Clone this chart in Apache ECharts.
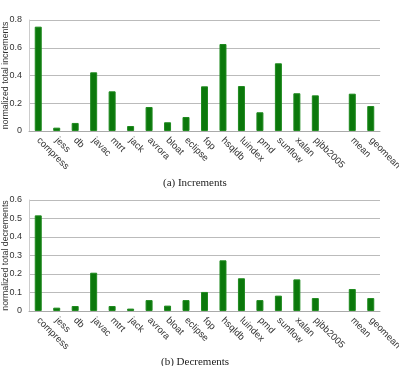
<!DOCTYPE html>
<html>
<head>
<meta charset="utf-8">
<script src="https://cdn.jsdelivr.net/npm/echarts@6/dist/echarts.min.js"></script>
<style>html,body{margin:0;padding:0;background:#fff}#c{width:399px;height:366px}</style>
</head>
<body>
<div id="c"></div>
<script>
var categories = ['compress','jess','db','javac','mtrt','jack','avrora','bloat','eclipse','fop','hsqldb','luindex','pmd','sunflow','xalan','pjbb2005','','mean','geomean'];
var increments = [0.752,0.024,0.058,0.423,0.286,0.036,0.173,0.063,0.101,0.322,0.627,0.324,0.135,0.488,0.272,0.257,null,0.269,0.18];
var decrements = [0.517,0.018,0.027,0.207,0.027,0.013,0.059,0.029,0.059,0.103,0.274,0.177,0.059,0.083,0.171,0.07,null,0.119,0.07];
var incTicks = {min:0, max:0.8, interval:0.2};
var decTicks = {min:0, max:0.6, interval:0.1};

var chart = echarts.init(document.getElementById('c'), null, {renderer:'canvas'});
var sans = 'Liberation Sans, Arial, sans-serif';
function xAx(gi){
  return {type:'category', gridIndex:gi, data:categories,
    axisLine:{lineStyle:{color:'#aaa'}}, axisTick:{show:false},
    axisLabel:{rotate:-45, interval:0, margin:8, fontFamily:sans, fontSize:9.5, color:'#333'}};
}
function yAx(gi, t, name){
  return {type:'value', gridIndex:gi, min:t.min, max:t.max, interval:t.interval,
    name:name, nameLocation:'middle', nameGap:19, nameMoveOverlap:false,
    nameTextStyle:{fontFamily:sans, fontSize:8.8, color:'#333'},
    axisLine:{show:true, lineStyle:{color:'#ccc'}}, axisTick:{show:false},
    splitLine:{lineStyle:{color:'#bbb'}},
    axisLabel:{margin:7, fontFamily:sans, fontSize:9, color:'#333',
      formatter:function(v){return v===0?'0':String(+v.toFixed(1));}}};
}
var barStyle = {color:'#0b780b', borderColor:'#1f8a1f', borderWidth:1};
chart.setOption({
  animation:false,
  grid:[{left:29, top:20, right:19, height:111, outerBoundsMode:'none', containLabel:false},
        {left:29, top:200, right:19, height:111, outerBoundsMode:'none', containLabel:false}],
  xAxis:[xAx(0), xAx(1)],
  yAxis:[yAx(0, incTicks, 'normalized total increments'), yAx(1, decTicks, 'normalized total decrements')],
  series:[
    {type:'bar', xAxisIndex:0, yAxisIndex:0, data:increments, barWidth:7, itemStyle:barStyle},
    {type:'bar', xAxisIndex:1, yAxisIndex:1, data:decrements, barWidth:7, itemStyle:barStyle}
  ],
  graphic:[
    {type:'text', left:163, top:178, style:{text:'(a) Increments', font:'11px "Liberation Serif", serif', fill:'#222'}},
    {type:'text', left:161, top:357, style:{text:'(b) Decrements', font:'11px "Liberation Serif", serif', fill:'#222'}}
  ]
});
</script>
</body>
</html>
